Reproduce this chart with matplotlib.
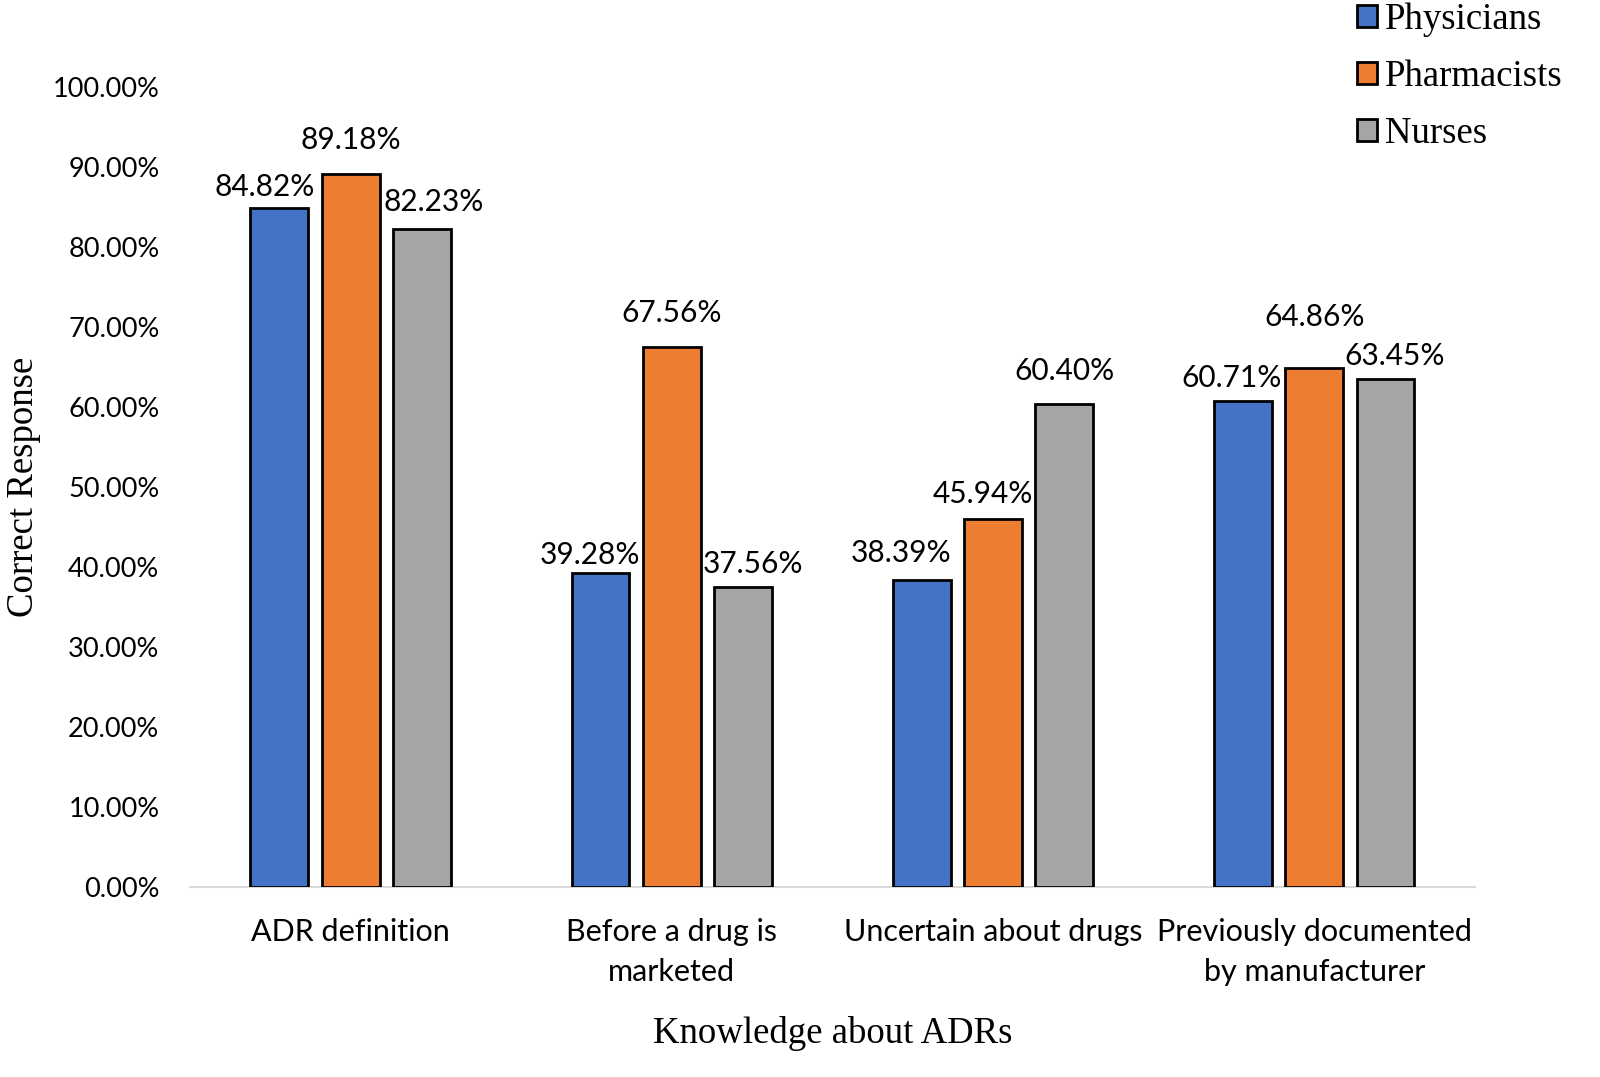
import numpy as np
import matplotlib
matplotlib.use("Agg")
import matplotlib.pyplot as plt
from matplotlib.patches import Patch

# data
categories = ["ADR definition", "Before a drug is\nmarketed",
              "Uncertain about drugs", "Previously documented\nby manufacturer"]
physicians = [84.82, 39.28, 38.39, 60.71]
pharmacists = [89.18, 67.56, 45.94, 64.86]
nurses = [82.23, 37.56, 60.40, 63.45]
series_names = ["Physicians", "Pharmacists", "Nurses"]
yticks = np.arange(0, 101, 10)

# label nudges (pixels) so the labels sit like in the original
label_dx = [[-15, -11, -21, -11], [0, 0, -10, 0], [12, 10, 0, 9]]
label_dy = [[21, 18, 27, 23], [34, 34, 25, 51], [27, 23, 33, 23]]

colors = ["#4472C4", "#ED7D31", "#A5A5A5"]
sans = "Lato"
serif = "Liberation Serif"

fig = plt.figure(figsize=(16, 10.77), dpi=100)
ax = fig.add_axes([0.11875, 0.1764, 0.803, 0.7428])

x = np.arange(len(categories))
width = 0.18
step = 0.222
all_series = [physicians, pharmacists, nurses]
for i, vals in enumerate(all_series):
    pos = x + (i - 1) * step
    bars = ax.bar(pos, np.array(vals) / 100, width, color=colors[i],
                  edgecolor="black", linewidth=2, label=series_names[i], zorder=3)
    for j, b in enumerate(bars):
        ax.annotate(f"{vals[j]:.2f}%",
                    (b.get_x() + b.get_width() / 2, b.get_height()),
                    xytext=(label_dx[i][j], label_dy[i][j]),
                    textcoords="offset pixels", ha="center", va="center",
                    fontsize=21.5, family=sans)

ax.set_xlim(-0.5, 3.5)
ax.set_ylim(0, 1.0)
ax.set_yticks(yticks / 100)
ax.set_yticklabels([f"{t:.2f}%" for t in yticks], family=sans, fontsize=19.5)
ax.set_xticks(x)
ax.set_xticklabels(categories, family=sans, fontsize=22, linespacing=1.52)
ax.tick_params(length=0)
ax.tick_params(axis="x", pad=22)
ax.tick_params(axis="y", pad=22)

for s in ["top", "right", "left"]:
    ax.spines[s].set_visible(False)
ax.spines["bottom"].set_color("#D9D9D9")
ax.spines["bottom"].set_linewidth(1.5)

ax.set_ylabel("Correct Response", family=serif, fontsize=26.5, labelpad=8)
ax.set_xlabel("Knowledge about ADRs", family=serif, fontsize=26.5, labelpad=22)

handles = [Patch(facecolor=c, edgecolor="black", linewidth=2) for c in colors]
fig.legend(handles, series_names, loc="upper left", bbox_to_anchor=(0.848, 0.998),
           frameon=False, prop={"family": serif, "size": 26.5},
           borderpad=0, borderaxespad=0,
           handlelength=0.55, handleheight=0.55, handletextpad=0.22, labelspacing=0.62)

fig.savefig("out.png", dpi=100)
